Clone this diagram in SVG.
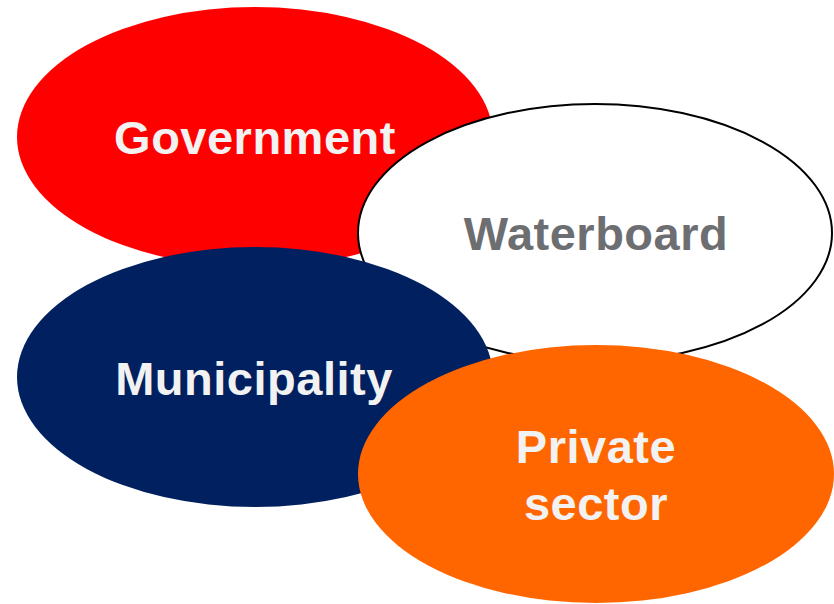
<svg xmlns="http://www.w3.org/2000/svg" width="834" height="604" viewBox="0 0 834 604">
<style>
text{font-family:"Liberation Sans",Arial,sans-serif;font-weight:bold;font-size:47px;letter-spacing:0.5px;text-anchor:middle}
.lt{fill:#F2F2F2}
.gr{fill:#6D6E71}
</style>
<rect width="834" height="604" fill="#FFFFFF"/>
<g id="government">
<ellipse cx="255" cy="137" rx="238" ry="130" fill="#FF0000"/>
<text class="lt" x="255" y="154">Government</text>
</g>
<g id="waterboard">
<ellipse cx="595" cy="233" rx="237" ry="129" fill="#FFFFFF" stroke="#000000" stroke-width="2"/>
<text class="gr" x="596" y="250">Waterboard</text>
</g>
<g id="municipality">
<ellipse cx="255" cy="377" rx="238" ry="130" fill="#002060"/>
<text class="lt" x="254" y="395">Municipality</text>
</g>
<g id="private-sector">
<ellipse cx="596" cy="474" rx="238" ry="129" fill="#FF6600"/>
<text class="lt" x="596" y="463">Private</text>
<text class="lt" x="596" y="520">sector</text>
</g>
<g id="connectors"/>
</svg>
